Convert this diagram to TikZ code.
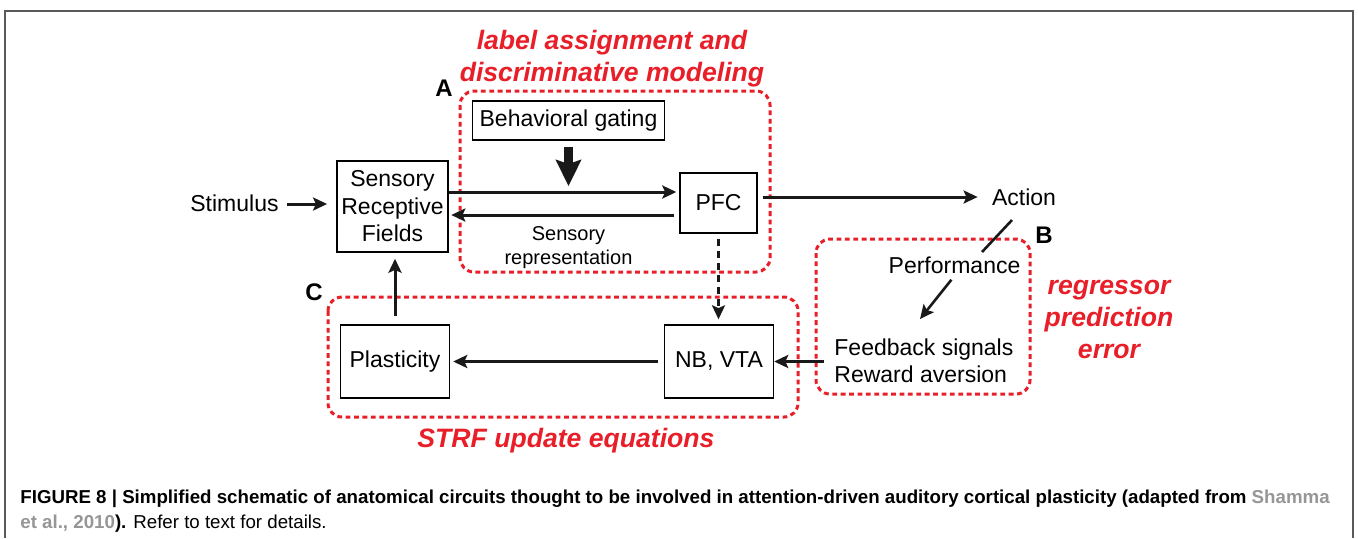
\documentclass[tikz,border=0pt]{standalone}
\usepackage{fontspec}
\setmainfont{Liberation Sans}
\usetikzlibrary{arrows.meta,positioning,calc}
\definecolor{regionred}{RGB}{232,30,40}
\definecolor{refgray}{RGB}{150,150,150}

\begin{document}
\begin{tikzpicture}[x=0.5pt,y=-0.5pt,
  box/.style={draw, line width=0.7pt, align=center, inner sep=0pt, font=\fontsize{11.5}{13.75}\selectfont},
  txt/.style={align=center, inner sep=1pt, font=\fontsize{11.5}{13.5}\selectfont},
  arr/.style={-{Stealth[length=7pt,width=6.5pt,inset=1.4pt]}, line width=1.5pt, black!90},
  bigarr/.style={-{Stealth[length=13pt,width=12.5pt,inset=2pt]}, line width=4.6pt, black!90},
  region/.style={draw=regionred, line width=1.5pt, dash pattern=on 2.4pt off 1.8pt, rounded corners=7pt},
  redlbl/.style={text=regionred, align=center, font=\fontsize{13.3}{16}\selectfont\bfseries\itshape},
  tag/.style={font=\fontsize{12}{12}\selectfont\bfseries}]
\useasboundingbox (0,0) rectangle (1358,538);
% frame
\draw[black!65, line width=0.6pt] (5,538) -- (5,11) -- (1353,11) -- (1353,538);

% dotted regions A, B, C
\draw[region] (460,91) rectangle (770,272);
\draw[region] (816,239) rectangle (1030,394);
\draw[region] (328,297) rectangle (798,417);

% boxes
\node[box, minimum width=96pt, minimum height=19.5pt] (gating) at (568.5,120.5) {Behavioral gating};
\node[box, minimum width=55.5pt, minimum height=45.5pt] (srf) at (392.5,206.5) {Sensory\\Receptive\\Fields};
\node[box, minimum width=38.5pt, minimum height=30pt] (pfc) at (718.5,203) {PFC};
\node[box, minimum width=54.5pt, minimum height=36.5pt] (nbvta) at (719,361.5) {NB, VTA};
\node[box, minimum width=54.5pt, minimum height=36.5pt] (plast) at (395,361.5) {Plasticity};

% plain labels
\node[txt] (stim) at (234.5,203) {Stimulus};
\node[txt] (action) at (1024,197) {Action};
\node[txt] (perf) at (954.5,265) {Performance};
\node[txt, align=left, anchor=west] (feedback) at (832,360.5) {Feedback signals\\Reward aversion};
\node[txt, font=\fontsize{10}{12}\selectfont] (srep) at (568.5,248) {Sensory\\representation};

% red labels and tags
\node[redlbl] (titleA) at (612,59) {label assignment and\\discriminative modeling};
\node[redlbl] (titleB) at (1109,319) {regressor\\prediction\\error};
\node[redlbl] (titleC) at (566,441) {STRF update equations};
\node[tag] (tagA) at (444,88) {A};
\node[tag] (tagB) at (1044,235) {B};
\node[tag] (tagC) at (314,292) {C};

% free ends
\coordinate (gate) at (568.5,186);
\coordinate (act1) at (1012,220);
\coordinate (act2) at (982,252);
\coordinate (fb) at (920,319);
\coordinate (bout) at (824,361.5);

% connectors
\draw[arr, shorten <=3pt, shorten >=4.6pt] (stim.east |- 0,204) -- (srf.west |- 0,204);
\draw[arr, shorten >=1.5pt] (srf.east |- 0,192) -- (pfc.west |- 0,192);
\draw[arr, shorten <=2.5pt, shorten >=1.3pt] (pfc.west |- 0,215) -- (srf.east |- 0,215);
\draw[bigarr, shorten <=3pt] (gating) -- (gate);
\draw[arr, shorten <=2.5pt, shorten >=6pt] (pfc.east |- action) -- (action);
\draw[line width=1.3pt, black!90] (act1) -- (act2);
\draw[arr, line width=1.3pt, shorten <=2.5pt] (perf.south) -- (fb);
\draw[arr] (bout) -- (nbvta.east);
\draw[arr, line width=1.3pt, dash pattern=on 3.5pt off 2.5pt, shorten <=2.5pt, shorten >=2.5pt] (pfc) -- (pfc |- nbvta.north);
\draw[arr, shorten <=2.8pt, shorten >=1.5pt] (nbvta) -- (plast);
\draw[arr, shorten <=4pt, shorten >=3pt] (plast.north) -- (plast.north |- srf.south);

% caption
\node[anchor=north west, align=left, inner sep=0pt, font=\fontsize{9.35}{12.5}\selectfont] (caption) at (20,490) {\textbf{FIGURE 8 | Simplified schematic of anatomical circuits thought to be involved in attention-driven auditory cortical plasticity (adapted from \textcolor{refgray}{Shamma}}\\\textbf{\textcolor{refgray}{et al., 2010}).} Refer to text for details.};
\end{tikzpicture}
\end{document}
